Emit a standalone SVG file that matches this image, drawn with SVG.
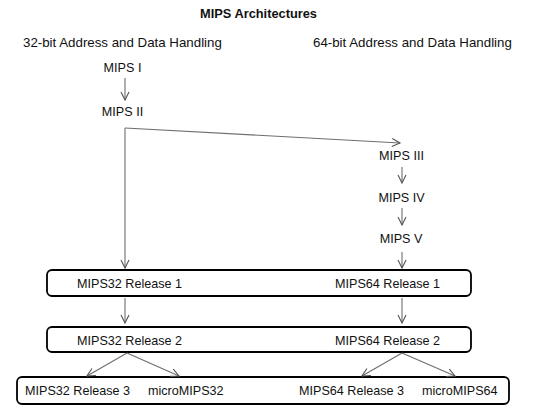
<svg xmlns="http://www.w3.org/2000/svg" width="542" height="415" viewBox="0 0 542 415">
<style>
text{font-family:"Liberation Sans",Arial,sans-serif;fill:#111}
.t{font-size:12.8px;font-weight:bold}
.h{font-size:13.3px}
.n{font-size:12.6px}
.m{text-anchor:middle}
.box{fill:#fff;stroke:#000;stroke-width:1.8}
.c{fill:none;stroke:#6e6e6e;stroke-width:1.1}
</style>
<defs>
<marker id="ah" markerUnits="userSpaceOnUse" markerWidth="12" markerHeight="12" viewBox="-10 -5 12 10" refX="0" refY="0" orient="auto">
<path d="M-8,-4 L0,0 L-8,4" fill="none" stroke="#555" stroke-width="1.1"/>
</marker>
</defs>
<rect width="542" height="415" fill="#fff"/>
<text class="t m" x="258.5" y="18">MIPS Architectures</text>
<text class="h" x="23" y="47">32-bit Address and Data Handling</text>
<text class="h" x="313" y="47">64-bit Address and Data Handling</text>
<g id="mips1"><text class="n m" x="122.5" y="72">MIPS I</text></g>
<g id="mips2"><text class="n m" x="122.5" y="116">MIPS II</text></g>
<g id="mips3"><text class="n m" x="401.5" y="160">MIPS III</text></g>
<g id="mips4"><text class="n m" x="401.5" y="202">MIPS IV</text></g>
<g id="mips5"><text class="n m" x="401" y="243">MIPS V</text></g>
<g id="release1">
<rect class="box" x="47" y="270" width="424" height="26" rx="5"/>
<text class="n" x="77" y="288">MIPS32 Release 1</text>
<text class="n" x="335" y="288">MIPS64 Release 1</text>
</g>
<g id="release2">
<rect class="box" x="47" y="327" width="424" height="25" rx="5"/>
<text class="n" x="77" y="345">MIPS32 Release 2</text>
<text class="n" x="335" y="345">MIPS64 Release 2</text>
</g>
<g id="release3">
<rect class="box" x="17" y="377" width="492" height="27" rx="5"/>
<text class="n" x="25" y="395">MIPS32 Release 3</text>
<text class="n" x="148" y="395">microMIPS32</text>
<text class="n" x="299" y="395">MIPS64 Release 3</text>
<text class="n" x="422" y="395">microMIPS64</text>
</g>
<g id="connectors">
<path class="c" d="M125,78 V100" marker-end="url(#ah)"/>
<path class="c" d="M125,128 L400,143" marker-end="url(#ah)"/>
<path class="c" d="M125,128 V268" marker-end="url(#ah)"/>
<path class="c" d="M402,167 V183" marker-end="url(#ah)"/>
<path class="c" d="M402,208 V225" marker-end="url(#ah)"/>
<path class="c" d="M402,252 V268" marker-end="url(#ah)"/>
<path class="c" d="M125,298 V323" marker-end="url(#ah)"/>
<path class="c" d="M402,298 V323" marker-end="url(#ah)"/>
<path class="c" d="M127,353 L87,376" marker-end="url(#ah)"/>
<path class="c" d="M127,353 L179,376" marker-end="url(#ah)"/>
<path class="c" d="M402,353 L362,376" marker-end="url(#ah)"/>
<path class="c" d="M402,353 L455,376" marker-end="url(#ah)"/>
</g>
</svg>
